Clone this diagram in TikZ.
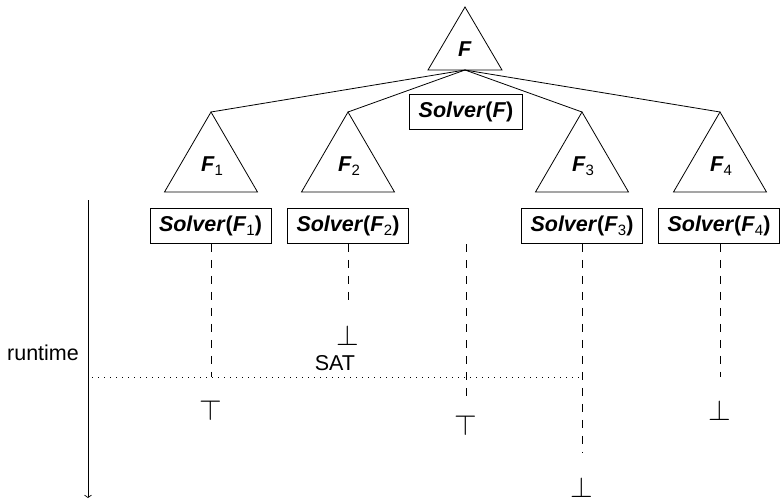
\documentclass[tikz,border=0pt]{standalone}
\usepackage{fontspec}
\setmainfont{Liberation Sans}
\usetikzlibrary{arrows.meta}

% formula names: bold italic F with an upright subscript
\newcommand\fv[1]{\textbf{\textit{F}}\raisebox{-3.5pt}{\fontsize{15}{15}\selectfont #1}}
\newcommand\sv[1]{\textbf{\textit{Solver}}\textbf{(}#1\textbf{)}}

\begin{document}
\begin{tikzpicture}[x=1pt,y=-1pt,
  every node/.style={font=\fontsize{21.5}{25}\selectfont},
  line width=0.8pt,
  solverbox/.style={draw, rectangle, inner xsep=9pt, inner ysep=0pt,
    minimum height=35pt},
  tri/.style={line join=miter},
  run/.style={dashed, dash pattern=on 8pt off 8pt, line width=0.7pt},
  cut/.style={line width=0.7pt, dash pattern=on 1pt off 5pt},
  resmark/.style={inner sep=0pt}]
\useasboundingbox (0,0) rectangle (780,501);

% root formula
\coordinate (rA) at (465,7);
\coordinate (rB) at (465,70);
\draw[tri] (rA) -- ++(-37,63) -- ++(74,0) -- cycle;
\node (rL) at (465,49) {\textbf{\textit{F}}};
\node[solverbox] (sF) at (466,111.5) {\sv{\textbf{\textit{F}}}};

% sub-formulas and their solvers
\foreach \i/\x in {1/211,2/348,3/582,4/720}{
  \coordinate (a\i) at (\x,112);
  \draw[tri] (a\i) -- ++(-46.5,80) -- ++(93,0) -- cycle;
  \node (l\i) at (\x+1,166) {\fv{\i}};
  \draw (rB) -- (a\i);
}
\node[solverbox] (s1) at (210.5,226) {\sv{\fv{1}}};
\node[solverbox] (s2) at (348,226) {\sv{\fv{2}}};
\node[solverbox] (s3) at (582,226) {\sv{\fv{3}}};
\node[solverbox] (s4) at (719,226) {\sv{\fv{4}}};

% runtime axis
\coordinate (axT) at (88,200);
\coordinate (axB) at (88,498);
\draw[-{Straight Barb[length=2.5pt,width=7pt]}, line width=0.7pt] (axT) -- (axB);
\node (rt) at (43,353) {runtime};

% solver runs
\coordinate (e1) at (211,377);
\coordinate (e2) at (348,300);
\coordinate (m0) at (466,244);
\coordinate (e0) at (466,397);
\coordinate (e3) at (582,453);
\coordinate (e4) at (720,377);
\draw[run] (s1.south -| e1) -- (e1);
\draw[run] (s2.south) -- (e2);
\draw[run] (m0) -- (e0);
\draw[run] (s3.south) -- (e3);
\draw[run] (s4.south -| e4) -- (e4);

% results
\node[resmark] (r1) at (211,410) {\scalebox{1.4}{$\top$}};
\node[resmark] (r2) at (348,335) {\scalebox{1.4}{$\bot$}};
\node[resmark] (r0) at (466,425) {\scalebox{1.4}{$\top$}};
\node[resmark] (r3) at (582,487) {\scalebox{1.4}{$\bot$}};
\node[resmark] (r4) at (720,410) {\scalebox{1.4}{$\bot$}};
\node (sat) at (335,363) {SAT};

% first answer line
\coordinate (c0) at (92,377);
\coordinate (c1) at (583,377);
\draw[cut] (c0) -- (c1);
\end{tikzpicture}
\end{document}
